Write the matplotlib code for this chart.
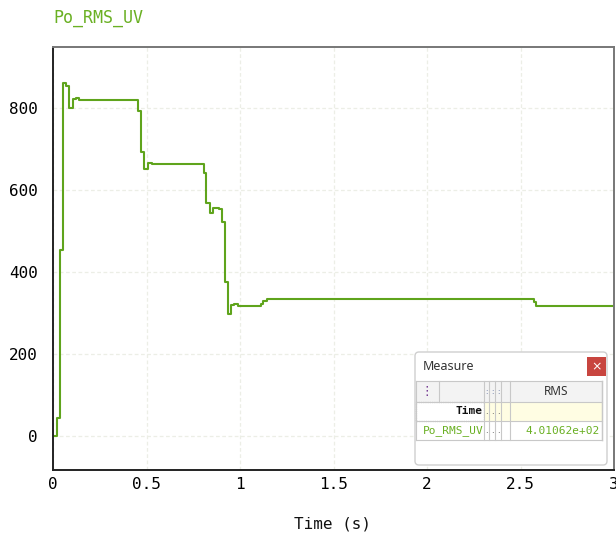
import matplotlib.pyplot as plt
from matplotlib.patches import Rectangle, FancyBboxPatch

# step signal (time in s, value)
time_s = [0.0, 0.020, 0.039, 0.053, 0.069, 0.087, 0.105, 0.121, 0.137,
          0.455, 0.468, 0.487, 0.506, 0.527, 0.805, 0.817, 0.840, 0.853,
          0.888, 0.906, 0.920, 0.938, 0.954, 0.970, 0.989, 1.110, 1.125,
          1.143, 2.570, 2.584, 3.0]
rms_uv = [0, 45, 454, 862, 854, 801, 821, 825, 820,
          794, 693, 652, 667, 664, 642, 569, 545, 556,
          553, 523, 376, 298, 319, 322, 317, 322, 330,
          334, 328, 318, 318]

signal_name = 'Po_RMS_UV'
rms_value = '4.01062e+02'
x_ticks = [0, 0.5, 1, 1.5, 2, 2.5, 3]
x_tick_labels = ['0', '0.5', '1', '1.5', '2', '2.5', '3']
y_ticks = [0, 200, 400, 600, 800]

green = '#5fa41c'
mono = 'DejaVu Sans Mono'

W, H = 616, 533
fig = plt.figure(figsize=(W / 100, H / 100), dpi=100)
ax = fig.add_axes([53 / W, 1 - 470 / H, (614 - 53) / W, (470 - 47) / H])

ax.step(time_s, rms_uv, where='post', color=green, lw=1.5)
ax.set_xlim(0, 3)
ax.set_ylim(-83, 949)
ax.set_xticks(x_ticks)
ax.set_xticklabels(x_tick_labels)
ax.set_yticks(y_ticks)
ax.grid(True, color='#eceee6', ls=(0, (3, 2)), lw=0.9)
ax.tick_params(length=0, labelsize=11.5)
ax.tick_params(axis='y', pad=11)
ax.tick_params(axis='x', pad=5)
for lbl in ax.get_xticklabels() + ax.get_yticklabels():
    lbl.set_family(mono)
for side in ['left', 'bottom']:
    ax.spines[side].set_color('#222222')
    ax.spines[side].set_linewidth(1.4)
for side in ['top', 'right']:
    ax.spines[side].set_color('#777777')
    ax.spines[side].set_linewidth(1.4)

fig.text(53 / W, 1 - 18 / H, signal_name, family=mono, fontsize=12,
         color='#6ab023', va='center', ha='left')
fig.text(333 / W, 1 - 524 / H, 'Time (s)', family=mono, fontsize=11.5,
         color='#111111', va='center', ha='center')

# overlay in pixel coords for the Measure panel
ov = fig.add_axes([0, 0, 1, 1], facecolor='none')
ov.set_xlim(0, W)
ov.set_ylim(H, 0)
ov.axis('off')

ov.add_patch(FancyBboxPatch((415, 352), 192, 113, boxstyle='round,pad=0,rounding_size=4',
                            fc='white', ec='#cfcfcf', lw=1))
ov.text(423, 366, 'Measure', fontsize=9, color='#333333', va='center', ha='left',
        family='Noto Sans')
ov.add_patch(Rectangle((587, 357), 19, 19, fc='#c8453f', ec='none'))
ov.text(596.5, 366.5, '×', fontsize=9, color='white', va='center', ha='center')

cols = [416, 439, 484, 489, 495, 501, 510, 602]
# header row
ov.add_patch(Rectangle((416, 381), 186, 21, fc='#f3f3f3', ec='none'))
# Time row
ov.add_patch(Rectangle((416, 402), 68, 19, fc='white', ec='#555555', lw=0.8, ls=(0, (1, 1))))
ov.add_patch(Rectangle((484, 402), 118, 19, fc='#fffde3', ec='none'))
for y in [381, 402, 421, 440]:
    ov.plot([416, 602], [y, y], color='#c8c8c8', lw=0.8)
for x in cols:
    top = 381
    bot = 440 if x not in (439,) else 402
    ov.plot([x, x], [top, bot], color='#c8c8c8', lw=0.8)
ov.plot([602, 602], [381, 440], color='#c8c8c8', lw=1)
ov.text(427, 391.5, '⋮', fontsize=9, color='#6a2a8a', va='center', ha='center')
for xa, xb in zip(cols[2:5], cols[3:6]):
    ov.text((xa + xb) / 2, 391.5, ':', fontsize=5, color='#5a6a9a', va='center', ha='center')
    ov.text((xa + xb) / 2, 411.5, '.', fontsize=6, color='#333333', va='center', ha='center')
    ov.text((xa + xb) / 2, 430.5, '.', fontsize=6, color='#333333', va='center', ha='center')
ov.text(556, 391.5, 'RMS', fontsize=8.5, color='#333333', va='center', ha='center',
        family='Noto Sans')
ov.text(482, 411.5, 'Time', fontsize=8, color='#111111', va='center', ha='right',
        family=mono, weight='bold')
ov.text(423, 430.5, signal_name, fontsize=8, color='#6ab023', va='center', ha='left',
        family=mono)
ov.text(600, 430.5, rms_value, fontsize=8, color='#6ab023', va='center', ha='right',
        family=mono)

fig.savefig('out.png', dpi=100)
